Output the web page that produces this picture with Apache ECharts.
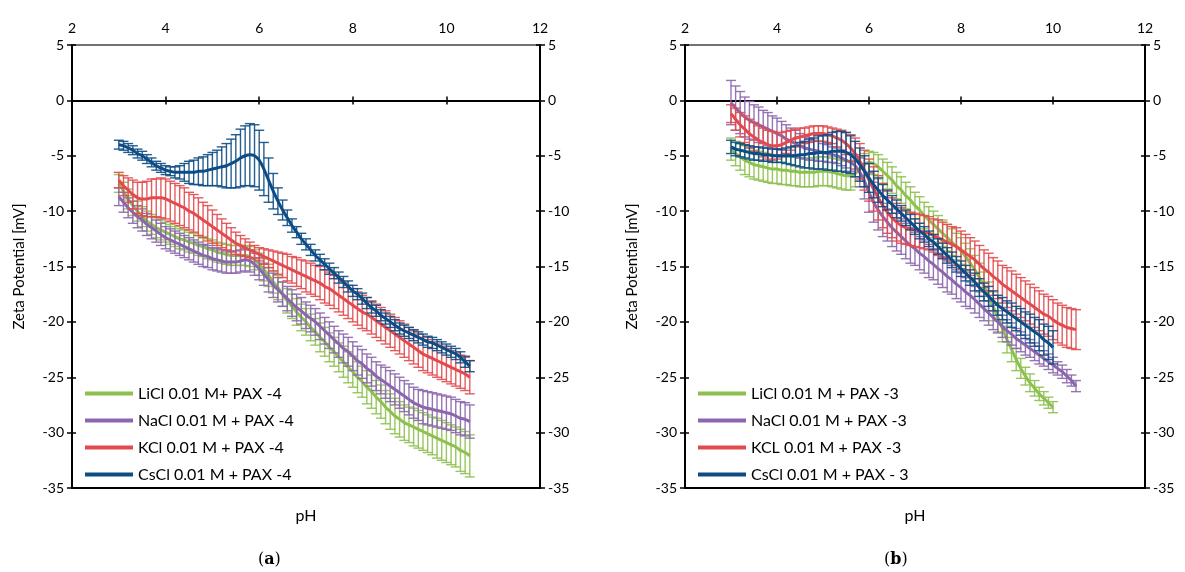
<!DOCTYPE html>
<html><head><meta charset="utf-8">
<script src="https://cdn.jsdelivr.net/npm/echarts@6/dist/echarts.min.js"></script>
<style>html,body{margin:0;padding:0;background:#fff}#c{width:1185px;height:572px}</style>
</head><body><div id="c"></div>
<script>
// pH grid (measurement points)
const phFull = [3.0,3.1,3.2,3.3,3.4,3.5,3.6,3.7,3.8,3.9,4.0,4.1,4.2,4.3,4.4,4.5,4.6,4.7,4.8,4.9,5.0,5.1,5.2,5.3,5.4,5.5,5.6,5.7,5.8,5.9,6.0,6.1,6.2,6.3,6.4,6.5,6.6,6.7,6.8,6.9,7.0,7.1,7.2,7.3,7.4,7.5,7.6,7.7,7.8,7.9,8.0,8.1,8.2,8.3,8.4,8.5,8.6,8.7,8.8,8.9,9.0,9.1,9.2,9.3,9.4,9.5,9.6,9.7,9.8,9.9,10.0,10.1,10.2,10.3,10.4,10.5];
const phShort = [3.0,3.1,3.2,3.3,3.4,3.5,3.6,3.7,3.8,3.9,4.0,4.1,4.2,4.3,4.4,4.5,4.6,4.7,4.8,4.9,5.0,5.1,5.2,5.3,5.4,5.5,5.6,5.7,5.8,5.9,6.0,6.1,6.2,6.3,6.4,6.5,6.6,6.7,6.8,6.9,7.0,7.1,7.2,7.3,7.4,7.5,7.6,7.7,7.8,7.9,8.0,8.1,8.2,8.3,8.4,8.5,8.6,8.7,8.8,8.9,9.0,9.1,9.2,9.3,9.4,9.5,9.6,9.7,9.8,9.9,10.0];

const xTicks = [2,4,6,8,10,12];
const yTicks = [5,0,-5,-10,-15,-20,-25,-30,-35];

// ---- Panel (a): PAX-4 ----
const namesA = ['LiCl 0.01 M+ PAX -4','NaCl 0.01 M + PAX -4','KCl 0.01 M + PAX -4','CsCl 0.01 M + PAX -4'];
const liA = [-7.5,-8.2,-8.9,-9.5,-10.0,-10.5,-10.9,-11.2,-11.5,-11.7,
 -11.9,-12.1,-12.3,-12.5,-12.6,-12.8,-12.9,-13.1,-13.2,-13.4,
 -13.5,-13.7,-13.8,-13.9,-14.0,-14.0,-14.0,-14.0,-14.1,-14.4,
 -14.8,-15.3,-15.8,-16.4,-16.9,-17.5,-18.1,-18.6,-19.1,-19.6,
 -20.0,-20.5,-20.9,-21.4,-21.8,-22.3,-22.7,-23.2,-23.6,-24.1,
 -24.5,-25.0,-25.4,-25.9,-26.3,-26.8,-27.2,-27.7,-28.1,-28.5,
 -28.8,-29.1,-29.3,-29.5,-29.7,-29.9,-30.1,-30.3,-30.5,-30.7,
 -30.9,-31.1,-31.3,-31.6,-31.8,-32.1];
const liAErr = [0.8,0.8,0.9,0.9,0.9,0.9,0.9,0.9,0.9,0.9,
 0.9,0.9,0.9,0.9,0.9,0.9,0.9,0.9,0.9,0.9,
 0.9,0.9,0.9,0.9,0.9,0.9,0.9,0.9,0.9,0.9,
 1.0,1.0,1.0,1.0,1.1,1.1,1.1,1.1,1.2,1.2,
 1.2,1.2,1.2,1.3,1.3,1.3,1.3,1.3,1.4,1.4,
 1.4,1.4,1.4,1.5,1.5,1.5,1.5,1.5,1.6,1.6,
 1.6,1.6,1.6,1.7,1.7,1.7,1.7,1.7,1.8,1.8,
 1.8,1.8,1.8,1.9,1.9,1.9];
const naA = [-8.7,-9.2,-9.7,-10.1,-10.5,-10.8,-11.2,-11.5,-11.8,-12.1,
 -12.4,-12.6,-12.8,-13.0,-13.2,-13.4,-13.6,-13.8,-14.0,-14.1,
 -14.3,-14.4,-14.5,-14.6,-14.6,-14.6,-14.5,-14.4,-14.5,-14.8,
 -15.2,-15.7,-16.2,-16.7,-17.1,-17.5,-17.9,-18.3,-18.7,-19.0,
 -19.4,-19.7,-20.0,-20.4,-20.8,-21.2,-21.6,-22.0,-22.4,-22.7,
 -23.1,-23.5,-23.8,-24.2,-24.5,-24.9,-25.2,-25.5,-25.8,-26.1,
 -26.4,-26.7,-27.0,-27.3,-27.5,-27.7,-27.8,-27.9,-28.0,-28.1,
 -28.2,-28.3,-28.5,-28.7,-28.8,-29.0];
const naAErr = [0.8,0.9,0.9,1.0,1.0,1.0,1.0,1.0,1.0,1.0,
 1.0,1.0,1.0,1.0,1.0,1.0,1.0,1.0,1.0,1.0,
 1.0,1.0,1.0,1.0,1.0,1.0,1.0,1.0,1.0,1.0,
 1.0,1.0,1.1,1.1,1.1,1.1,1.1,1.2,1.2,1.2,
 1.2,1.2,1.2,1.2,1.2,1.2,1.2,1.2,1.3,1.3,
 1.3,1.3,1.3,1.3,1.3,1.3,1.3,1.4,1.4,1.4,
 1.4,1.4,1.4,1.4,1.4,1.5,1.5,1.5,1.5,1.5,
 1.5,1.5,1.5,1.5,1.5,1.5];
const kA = [-7.2,-7.7,-8.1,-8.5,-8.8,-8.9,-8.9,-8.8,-8.8,-8.8,
 -8.9,-9.1,-9.3,-9.5,-9.7,-10.0,-10.2,-10.5,-10.8,-11.1,
 -11.4,-11.7,-12.0,-12.3,-12.6,-12.9,-13.1,-13.3,-13.5,-13.7,
 -13.9,-14.1,-14.3,-14.5,-14.7,-14.9,-15.1,-15.3,-15.5,-15.7,
 -15.9,-16.1,-16.3,-16.5,-16.8,-17.0,-17.3,-17.6,-17.9,-18.2,
 -18.5,-18.8,-19.1,-19.3,-19.6,-19.9,-20.2,-20.5,-20.8,-21.1,
 -21.4,-21.7,-22.0,-22.3,-22.6,-22.9,-23.1,-23.3,-23.5,-23.7,
 -23.9,-24.1,-24.3,-24.5,-24.7,-25.0];
const kAErr = [0.7,0.9,1.1,1.3,1.4,1.5,1.6,1.7,1.7,1.8,
 1.8,1.8,1.8,1.8,1.8,1.7,1.7,1.7,1.6,1.6,
 1.5,1.4,1.3,1.2,1.1,1.0,0.9,0.8,0.7,0.6,
 0.6,0.7,0.8,0.9,1.0,1.1,1.2,1.2,1.3,1.3,
 1.4,1.4,1.4,1.5,1.5,1.5,1.5,1.5,1.5,1.5,
 1.5,1.5,1.5,1.5,1.5,1.5,1.5,1.5,1.5,1.5,
 1.5,1.5,1.5,1.5,1.5,1.5,1.5,1.5,1.5,1.5,
 1.5,1.5,1.5,1.5,1.5,1.5];
const csA = [-4.0,-4.1,-4.3,-4.5,-4.8,-5.0,-5.3,-5.6,-5.9,-6.1,
 -6.3,-6.4,-6.5,-6.5,-6.5,-6.5,-6.5,-6.4,-6.4,-6.3,
 -6.2,-6.1,-6.0,-5.9,-5.7,-5.5,-5.2,-5.0,-4.9,-5.0,
 -5.4,-6.2,-7.2,-8.2,-9.1,-9.9,-10.6,-11.3,-11.9,-12.5,
 -13.0,-13.5,-14.0,-14.4,-14.8,-15.2,-15.6,-16.0,-16.4,-16.8,
 -17.2,-17.5,-17.9,-18.3,-18.7,-19.0,-19.4,-19.7,-20.0,-20.3,
 -20.6,-20.8,-21.0,-21.2,-21.4,-21.6,-21.8,-21.9,-22.1,-22.3,
 -22.5,-22.7,-22.9,-23.2,-23.6,-24.0];
const csAErr = [0.4,0.4,0.4,0.4,0.4,0.4,0.4,0.4,0.4,0.4,
 0.4,0.4,0.5,0.6,0.8,1.0,1.1,1.2,1.3,1.4,
 1.5,1.6,1.8,2.0,2.2,2.4,2.6,2.7,2.8,2.8,
 2.7,2.4,2.0,1.6,1.2,0.9,0.7,0.6,0.5,0.5,
 0.5,0.5,0.5,0.5,0.5,0.5,0.5,0.5,0.5,0.5,
 0.5,0.5,0.5,0.5,0.5,0.5,0.5,0.5,0.5,0.5,
 0.5,0.5,0.5,0.5,0.5,0.5,0.5,0.5,0.5,0.5,
 0.5,0.5,0.5,0.5,0.5,0.5];

// ---- Panel (b): PAX-3 ----
const namesB = ['LiCl 0.01 M + PAX -3','NaCl 0.01 M + PAX -3','KCL 0.01 M + PAX -3','CsCl 0.01 M + PAX - 3'];
const liB = [-4.4,-4.8,-5.1,-5.4,-5.6,-5.8,-5.9,-6.0,-6.1,-6.2,
 -6.2,-6.3,-6.3,-6.4,-6.4,-6.5,-6.5,-6.5,-6.5,-6.4,
 -6.4,-6.4,-6.5,-6.6,-6.7,-6.8,-6.8,-6.6,-6.2,-5.8,
 -5.6,-5.7,-6.0,-6.4,-6.8,-7.2,-7.7,-8.1,-8.6,-9.0,
 -9.5,-9.9,-10.4,-10.8,-11.2,-11.6,-12.0,-12.4,-12.8,-13.2,
 -13.6,-14.1,-14.7,-15.3,-16.0,-16.8,-17.7,-18.6,-19.6,-20.6,
 -21.6,-22.5,-23.4,-24.2,-24.9,-25.5,-26.0,-26.5,-26.9,-27.3,
 -27.7];
const liBErr = [1.0,1.1,1.2,1.3,1.3,1.3,1.3,1.3,1.3,1.3,
 1.3,1.3,1.3,1.3,1.3,1.3,1.3,1.3,1.3,1.3,
 1.3,1.3,1.3,1.3,1.3,1.3,1.3,1.2,1.1,1.0,
 1.0,1.0,1.1,1.1,1.2,1.2,1.2,1.2,1.2,1.2,
 1.2,1.2,1.2,1.2,1.2,1.2,1.2,1.2,1.2,1.2,
 1.2,1.2,1.3,1.3,1.3,1.3,1.3,1.3,1.3,1.2,
 1.2,1.1,1.0,0.9,0.8,0.8,0.7,0.6,0.6,0.5,
 0.5];
const naB = [-0.2,-0.7,-1.1,-1.5,-1.8,-2.0,-2.2,-2.4,-2.6,-2.8,
 -3.0,-3.2,-3.5,-3.7,-3.9,-4.1,-4.3,-4.4,-4.5,-4.6,
 -4.7,-4.8,-4.9,-5.0,-5.2,-5.4,-5.6,-5.9,-6.5,-7.3,
 -8.3,-9.2,-9.9,-10.5,-11.0,-11.5,-11.9,-12.3,-12.7,-13.1,
 -13.4,-13.8,-14.1,-14.5,-14.8,-15.2,-15.5,-15.9,-16.2,-16.6,
 -16.9,-17.3,-17.6,-18.0,-18.4,-18.8,-19.2,-19.6,-20.0,-20.4,
 -20.8,-21.1,-21.5,-21.8,-22.1,-22.4,-22.7,-23.0,-23.3,-23.6,
 -23.9,-24.2,-24.5,-24.9,-25.3,-25.8];
const naBErr = [2.0,2.0,1.9,1.8,1.7,1.6,1.6,1.5,1.5,1.4,
 1.4,1.3,1.3,1.2,1.2,1.1,1.0,1.0,0.9,0.9,
 0.8,0.8,0.7,0.7,0.7,0.7,0.8,1.0,1.3,1.6,
 1.8,1.8,1.8,1.8,1.7,1.7,1.7,1.6,1.6,1.6,
 1.5,1.5,1.5,1.5,1.4,1.4,1.4,1.4,1.3,1.3,
 1.3,1.3,1.2,1.2,1.2,1.1,1.1,1.1,1.0,1.0,
 1.0,1.0,0.9,0.9,0.9,0.8,0.8,0.8,0.7,0.7,
 0.7,0.6,0.6,0.6,0.5,0.5];
const kB = [-1.2,-1.7,-2.2,-2.6,-3.0,-3.3,-3.6,-3.8,-4.0,-4.1,
 -4.1,-4.0,-3.8,-3.6,-3.4,-3.3,-3.2,-3.1,-3.0,-3.0,
 -3.0,-3.1,-3.2,-3.4,-3.6,-3.9,-4.3,-4.8,-5.5,-6.3,
 -7.2,-8.0,-8.8,-9.5,-10.1,-10.6,-11.0,-11.3,-11.5,-11.6,
 -11.7,-11.8,-11.9,-12.0,-12.2,-12.4,-12.6,-12.8,-13.0,-13.2,
 -13.5,-13.8,-14.1,-14.4,-14.8,-15.2,-15.5,-15.9,-16.2,-16.6,
 -16.9,-17.2,-17.5,-17.8,-18.1,-18.4,-18.7,-19.0,-19.3,-19.5,
 -19.8,-20.1,-20.3,-20.5,-20.6,-20.7];
const kBErr = [0.8,1.0,1.1,1.2,1.3,1.3,1.3,1.3,1.3,1.3,
 1.2,1.1,1.0,0.9,0.8,0.8,0.7,0.7,0.7,0.7,
 0.7,0.7,0.7,0.8,0.9,1.0,1.2,1.4,1.6,1.8,
 1.9,2.0,2.0,2.0,1.9,1.8,1.7,1.6,1.5,1.5,
 1.5,1.5,1.5,1.5,1.5,1.6,1.6,1.6,1.6,1.7,
 1.7,1.7,1.7,1.7,1.7,1.7,1.7,1.7,1.7,1.7,
 1.8,1.8,1.8,1.8,1.8,1.8,1.8,1.8,1.8,1.8,
 1.8,1.8,1.8,1.8,1.8,1.8];
const csB = [-4.2,-4.4,-4.5,-4.6,-4.7,-4.8,-4.8,-4.9,-4.9,-5.0,
 -5.0,-5.0,-5.0,-5.0,-5.0,-4.9,-4.9,-4.8,-4.8,-4.7,
 -4.7,-4.7,-4.6,-4.6,-4.6,-4.7,-4.9,-5.3,-5.8,-6.4,
 -7.0,-7.6,-8.1,-8.6,-9.0,-9.4,-9.8,-10.2,-10.6,-11.0,
 -11.4,-11.8,-12.1,-12.5,-12.8,-13.2,-13.6,-14.0,-14.4,-14.8,
 -15.2,-15.6,-16.0,-16.4,-16.9,-17.3,-17.7,-18.1,-18.5,-18.8,
 -19.1,-19.4,-19.7,-20.0,-20.3,-20.6,-20.9,-21.2,-21.6,-21.9,
 -22.3];
const csBErr = [0.6,0.6,0.6,0.6,0.6,0.6,0.6,0.6,0.6,0.6,
 0.6,0.6,0.7,0.8,0.9,1.1,1.2,1.3,1.4,1.5,
 1.5,1.6,1.7,1.8,1.8,1.8,1.7,1.6,1.5,1.4,
 1.3,1.2,1.1,1.0,0.9,0.8,0.8,0.7,0.7,0.7,
 0.7,0.7,0.7,0.7,0.7,0.7,0.7,0.7,0.7,0.7,
 0.7,0.7,0.7,0.8,0.8,0.8,0.9,0.9,0.9,1.0,
 1.0,1.1,1.1,1.2,1.2,1.3,1.3,1.4,1.4,1.5,
 1.5];

const colors = ['#8DC04F', '#8B66AD', '#E24A4E', '#0D4C84'];
const FONT = 'Lato, "Open Sans", sans-serif';

const chart = echarts.init(document.getElementById('c'), null, {renderer: 'canvas'});

const grids = [
  {left: 72, top: 45, width: 468, height: 443},
  {left: 685, top: 45, width: 460, height: 443}
];

function makeAxes(gi) {
  const xs = [
    { // top labelled axis
      gridIndex: gi, type: 'value', position: 'top', min: 2, max: 12, interval: 2,
      axisLine: {show: true, onZero: false, lineStyle: {color: '#444', width: 1.5}},
      axisTick: {show: false}, splitLine: {show: false},
      axisLabel: {show: true, color: '#000', fontSize: 14, fontFamily: FONT, margin: 10}
    },
    { // zero line, outward ticks
      gridIndex: gi, type: 'value', position: 'bottom', min: 2, max: 12, interval: 2,
      axisLine: {show: true, onZero: true, lineStyle: {color: '#000', width: 2}},
      axisTick: {show: true, length: 4, lineStyle: {color: '#000', width: 1.5}},
      axisLabel: {show: false}, splitLine: {show: false}
    },
    { // zero line, inward ticks
      gridIndex: gi, type: 'value', position: 'bottom', min: 2, max: 12, interval: 2,
      axisLine: {show: false, onZero: true},
      axisTick: {show: true, inside: true, length: 4, lineStyle: {color: '#000', width: 1.5}},
      axisLabel: {show: false}, splitLine: {show: false}
    },
    { // bottom frame + name
      gridIndex: gi, type: 'value', position: 'bottom', min: 2, max: 12, interval: 2,
      axisLine: {show: true, onZero: false, lineStyle: {color: '#000', width: 2}},
      axisTick: {show: false}, axisLabel: {show: false}, splitLine: {show: false},
      name: 'pH', nameLocation: 'middle', nameGap: 20,
      nameTextStyle: {color: '#000', fontSize: 16, fontFamily: FONT}
    }
  ];
  const ys = [
    {
      gridIndex: gi, type: 'value', position: 'left', min: -35, max: 5, interval: 5,
      axisLine: {show: true, onZero: false, lineStyle: {color: '#000', width: 2}},
      axisTick: {show: true, length: 5, lineStyle: {color: '#000', width: 1.5}},
      axisLabel: {color: '#000', fontSize: 14, fontFamily: FONT, margin: 8},
      splitLine: {show: false},
      name: 'Zeta Potential [mV]', nameLocation: 'middle', nameGap: 45,
      nameTextStyle: {color: '#000', fontSize: 15, fontFamily: FONT}
    },
    {
      gridIndex: gi, type: 'value', position: 'right', min: -35, max: 5, interval: 5,
      axisLine: {show: true, onZero: false, lineStyle: {color: '#000', width: 2}},
      axisTick: {show: true, length: 5, lineStyle: {color: '#000', width: 1.5}},
      axisLabel: {color: '#000', fontSize: 14, fontFamily: FONT, margin: 8},
      splitLine: {show: false}
    },
    {
      gridIndex: gi, type: 'value', position: 'left', min: -35, max: 5, interval: 5,
      axisLine: {show: false, onZero: false},
      axisTick: {show: true, inside: true, length: 4, lineStyle: {color: '#000', width: 1.5}},
      axisLabel: {show: false}, splitLine: {show: false}
    },
    {
      gridIndex: gi, type: 'value', position: 'right', min: -35, max: 5, interval: 5,
      axisLine: {show: false, onZero: false},
      axisTick: {show: true, inside: true, length: 4, lineStyle: {color: '#000', width: 1.5}},
      axisLabel: {show: false}, splitLine: {show: false}
    }
  ];
  return {xs, ys};
}

const axA = makeAxes(0), axB = makeAxes(1);
const xAxis = axA.xs.concat(axB.xs);
const yAxis = axA.ys.concat(axB.ys);

function errSeries(color, xs, ys, errs, xi, yi, z) {
  return {
    type: 'custom', xAxisIndex: xi, yAxisIndex: yi, silent: true, z: z, clip: false,
    data: xs.map((x, i) => [x, ys[i] - errs[i], ys[i] + errs[i]]),
    encode: {x: 0, y: [1, 2]},
    renderItem: function (params, api) {
      const x = api.value(0);
      const lo = api.coord([x, api.value(1)]);
      const hi = api.coord([x, api.value(2)]);
      const hw = 5;
      const st = {stroke: color, lineWidth: 1.4, opacity: 0.9};
      return {type: 'group', children: [
        {type: 'line', shape: {x1: lo[0], y1: lo[1], x2: hi[0], y2: hi[1]}, style: st},
        {type: 'line', shape: {x1: lo[0] - hw, y1: lo[1], x2: lo[0] + hw, y2: lo[1]}, style: st},
        {type: 'line', shape: {x1: hi[0] - hw, y1: hi[1], x2: hi[0] + hw, y2: hi[1]}, style: st}
      ]};
    }
  };
}
function lineSeries(name, color, xs, ys, xi, yi, z) {
  return {
    type: 'line', name: name, xAxisIndex: xi, yAxisIndex: yi, z: z,
    data: xs.map((x, i) => [x, ys[i]]),
    showSymbol: false, smooth: 0.3, silent: true,
    lineStyle: {color: color, width: 3}, itemStyle: {color: color}
  };
}

const series = [];
const panelA = [[liA, liAErr, phFull], [naA, naAErr, phFull], [kA, kAErr, phFull], [csA, csAErr, phFull]];
const panelB = [[liB, liBErr, phShort], [naB, naBErr, phFull], [kB, kBErr, phFull], [csB, csBErr, phShort]];
panelA.forEach((d, i) => {
  series.push(errSeries(colors[i], d[2], d[0], d[1], 0, 0, 2 + i * 2));
  series.push(lineSeries(namesA[i], colors[i], d[2], d[0], 0, 0, 3 + i * 2));
});
panelB.forEach((d, i) => {
  series.push(errSeries(colors[i], d[2], d[0], d[1], 4, 4, 2 + i * 2));
  series.push(lineSeries(namesB[i], colors[i], d[2], d[0], 4, 4, 3 + i * 2));
});

const legendCommon = {
  orient: 'vertical', itemWidth: 48, itemHeight: 4, icon: 'rect', itemGap: 8,
  textStyle: {color: '#000', fontSize: 16, fontFamily: FONT, lineHeight: 19, padding: [0, 0, 0, 0]},
  selectedMode: false
};

chart.setOption({
  animation: false,
  backgroundColor: '#fff',
  grid: grids,
  xAxis: xAxis,
  yAxis: yAxis,
  legend: [
    Object.assign({left: 80, top: 379, data: namesA}, legendCommon),
    Object.assign({left: 693, top: 379, data: namesB}, legendCommon)
  ],
  graphic: [
    {type: 'text', left: 258, top: 552, style: {
      text: '{n|(}{b|a}{n|)}',
      rich: {n: {fontFamily: '"DejaVu Serif", serif', fontSize: 16, fill: '#000'},
             b: {fontFamily: '"DejaVu Serif", serif', fontSize: 16, fontWeight: 'bold', fill: '#000'}}
    }},
    {type: 'text', left: 884, top: 552, style: {
      text: '{n|(}{b|b}{n|)}',
      rich: {n: {fontFamily: '"DejaVu Serif", serif', fontSize: 16, fill: '#000'},
             b: {fontFamily: '"DejaVu Serif", serif', fontSize: 16, fontWeight: 'bold', fill: '#000'}}
    }}
  ],
  series: series
});
</script>
</body></html>
